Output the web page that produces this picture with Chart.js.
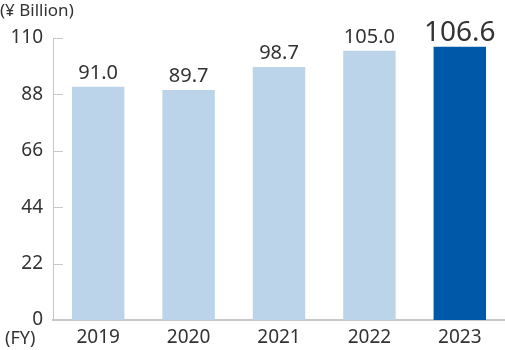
<!DOCTYPE html>
<html>
<head>
<meta charset="utf-8">
<script src="https://cdn.jsdelivr.net/npm/chart.js@4.4.1/dist/chart.umd.min.js"></script>
<style>
  html, body { margin: 0; padding: 0; background: #fff; overflow: hidden; }
</style>
</head>
<body>
<canvas id="salesChart" width="505" height="350"></canvas>
<script>
// Datos del gráfico
const years = ['2019', '2020', '2021', '2022', '2023'];
const sales = [91.0, 89.7, 98.7, 105.0, 106.6];
const yTicks = [0, 22, 44, 66, 88, 110];

const FONT = '"Noto Sans", "Open Sans", sans-serif';
const TEXT = '#333333';

// Etiquetas de valor, marcas del eje y textos sueltos
const extras = {
    id: 'extras',
    afterDatasetsDraw(chart) {
        const c = chart.ctx;
        const meta = chart.getDatasetMeta(0);
        const yScale = chart.scales.y;
        c.save();
        // marcas cortas hacia dentro
        c.strokeStyle = '#c8c8c8';
        c.lineWidth = 1;
        yTicks.forEach(v => {
            if (v === 0) return;
            const py = Math.round(yScale.getPixelForValue(v)) + 0.5;
            c.beginPath();
            c.moveTo(chart.chartArea.left, py);
            c.lineTo(chart.chartArea.left + 10, py);
            c.stroke();
        });
        // valores sobre las barras
        c.fillStyle = TEXT;
        c.textAlign = 'center';
        c.textBaseline = 'alphabetic';
        meta.data.forEach((bar, i) => {
            const last = i === sales.length - 1;
            c.font = (last ? '28px ' : '20px ') + FONT;
            c.fillText(sales[i].toFixed(1), bar.x, bar.y - (last ? 6 : 8));
        });
        // textos de unidad
        c.font = '17px ' + FONT;
        c.textAlign = 'left';
        c.textBaseline = 'middle';
        c.fillText('(¥ Billion)', 0, 11);
        c.font = '18px ' + FONT;
        c.fillText('(FY)', 5, 339);
        c.restore();
    }
};

const ctx = document.getElementById('salesChart').getContext('2d');

new Chart(ctx, {
    type: 'bar',
    data: {
        labels: years,
        datasets: [{
            data: sales,
            backgroundColor: ['#bcd4e9', '#bcd4e9', '#bcd4e9', '#bcd4e9', '#0058a9'],
            borderWidth: 0,
            barPercentage: 0.58,
            categoryPercentage: 1
        }]
    },
    options: {
        responsive: false,
        animation: false,
        layout: { padding: { top: 38, right: 0, left: 0, bottom: 0 } },
        plugins: {
            legend: { display: false },
            tooltip: { enabled: false }
        },
        scales: {
            x: {
                grid: { display: false, drawTicks: false },
                border: { color: '#c8c8c8', width: 2 },
                ticks: {
                    color: TEXT,
                    font: { family: FONT, size: 19 },
                    padding: 6,
                    maxRotation: 0,
                    minRotation: 0
                },
                afterFit(scale) { scale.height = 30; }
            },
            y: {
                min: 0,
                max: 110,
                afterBuildTicks(scale) {
                    scale.ticks = yTicks.map(v => ({ value: v }));
                },
                grid: { display: false, drawTicks: false },
                border: { color: '#c8c8c8', width: 1 },
                ticks: {
                    color: TEXT,
                    font: { family: FONT, size: 19 },
                    padding: 10,
                    autoSkip: false
                },
                afterFit(scale) { scale.width = 53; }
            }
        }
    },
    plugins: [extras]
});
</script>
</body>
</html>
